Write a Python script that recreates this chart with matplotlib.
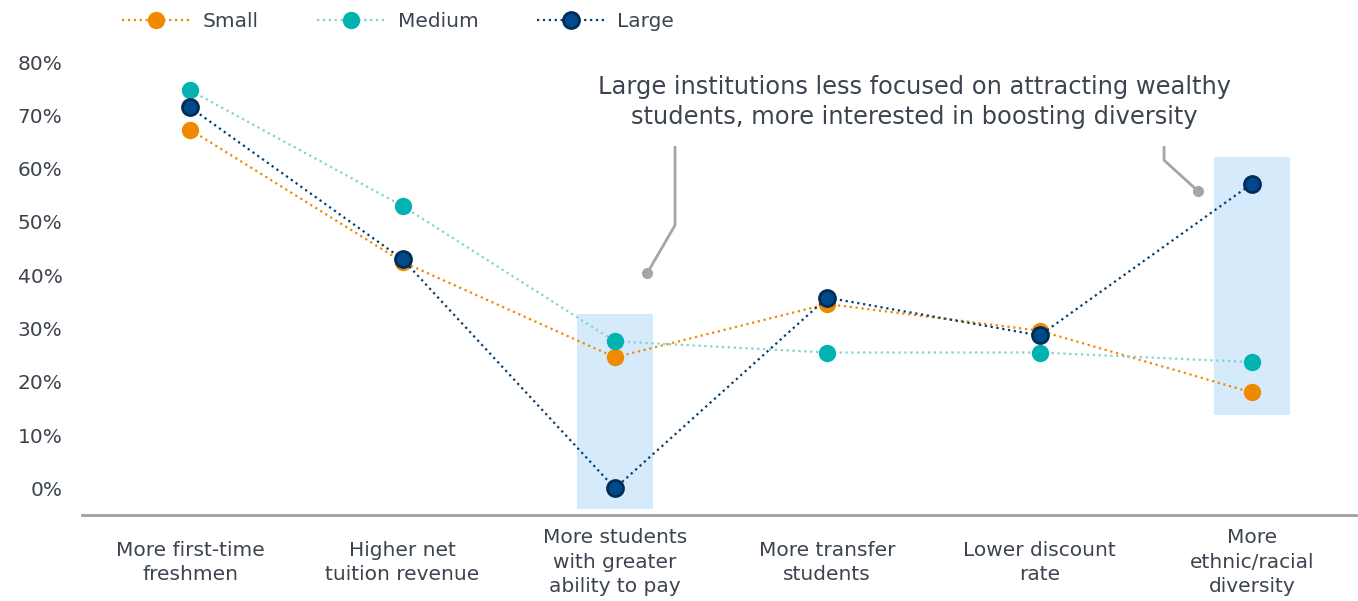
import matplotlib.pyplot as plt
from matplotlib.patches import Rectangle

categories = ["More first-time\nfreshmen", "Higher net\ntuition revenue",
              "More students\nwith greater\nability to pay", "More transfer\nstudents",
              "Lower discount\nrate", "More\nethnic/racial\ndiversity"]
small = [67.3, 42.5, 24.6, 34.6, 29.6, 18.0]
medium = [74.7, 53.0, 27.6, 25.5, 25.5, 23.7]
large = [71.5, 43.0, 0.0, 35.8, 28.7, 57.2]
yticks = [0, 10, 20, 30, 40, 50, 60, 70, 80]

txt = "#3c4450"
plt.rcParams['font.family'] = ['Verdana', 'DejaVu Sans']

fig = plt.figure(figsize=(13.58, 6.01), dpi=100)
ax = fig.add_axes([82 / 1358, 86 / 601, 1274 / 1358, 480 / 601])
x = list(range(len(categories)))

# highlighted categories
ax.add_patch(Rectangle((2 - 0.18, -3.8), 0.36, 36.5, color="#d5eafb", zorder=0, lw=0))
ax.add_patch(Rectangle((5 - 0.18, 13.7), 0.36, 48.5, color="#d5eafb", zorder=0, lw=0))

ax.plot(x, small, ls=":", lw=1.6, color="#ef8a00", marker="o", ms=11.5,
        mfc="#ef8a00", mec="#ef8a00", label="Small", zorder=3)
ax.plot(x, medium, ls=":", lw=1.6, color="#7fd3d1", marker="o", ms=11.5,
        mfc="#00b3b0", mec="#00b3b0", label="Medium", zorder=3)
ax.plot(x, large, ls=":", lw=1.6, color="#023e72", marker="o", ms=11.5,
        mfc="#004a8c", mec="#012c57", mew=2, label="Large", zorder=4)

# callout
ax.text(3.41, 72.5, "Large institutions less focused on attracting wealthy\n"
        "students, more interested in boosting diversity",
        ha="center", va="center", fontsize=17.4, color=txt, linespacing=1.3)
ax.plot([2.283, 2.283, 2.152], [64.0, 49.4, 40.4], color="#a3a6a9", lw=2, zorder=2)
ax.plot([2.152], [40.4], "o", color="#a3a6a9", ms=7, zorder=2)
ax.plot([4.586, 4.586, 4.746], [64.0, 61.6, 55.8], color="#a3a6a9", lw=2, zorder=2)
ax.plot([4.746], [55.8], "o", color="#a3a6a9", ms=7, zorder=2)

ax.set_xlim(-0.51, 5.49)
ax.set_ylim(-5, 85.1)
ax.set_yticks(yticks)
ax.set_yticklabels([f"{v}%" for v in yticks], fontsize=14.5, color=txt)
ax.set_xticks(x)
ax.set_xticklabels(categories, fontsize=14.5, color=txt, linespacing=1.35, va="center")
ax.tick_params(axis="y", length=0, pad=14)
ax.tick_params(axis="x", length=0, pad=34)
for s in ["left", "right", "top"]:
    ax.spines[s].set_visible(False)
ax.spines["bottom"].set_color("#a0a0a0")
ax.spines["bottom"].set_linewidth(2)

fig.legend(loc="upper left", bbox_to_anchor=(110 / 1358, 1.0), ncol=3, frameon=False,
           fontsize=14.5, handlelength=3.4, handletextpad=0.6, columnspacing=2.9,
           labelcolor=txt, borderaxespad=0.2)

fig.savefig("out.png", dpi=100)
